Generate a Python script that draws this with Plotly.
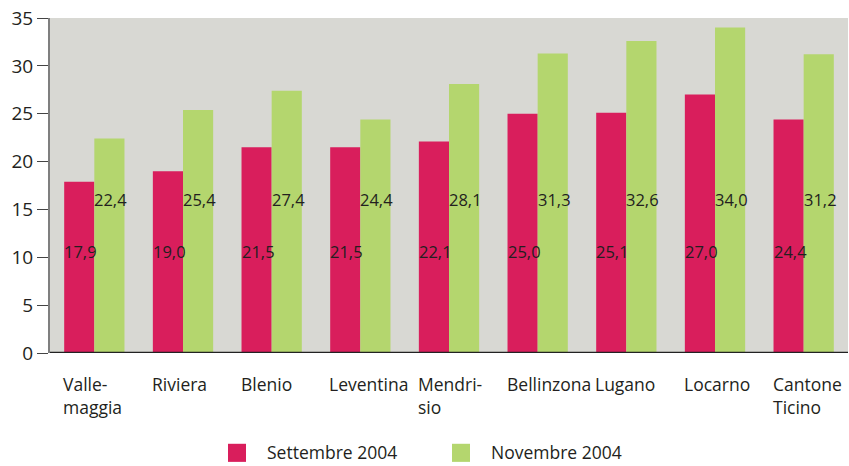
import plotly.graph_objects as go

categories = ["Vallemaggia", "Riviera", "Blenio", "Leventina", "Mendrisio",
              "Bellinzona", "Lugano", "Locarno", "Cantone Ticino"]
tick_labels = ["Valle-<br>maggia", "Riviera", "Blenio", "Leventina", "Mendri-<br>sio",
               "Bellinzona", "Lugano", "Locarno", "Cantone<br>Ticino"]
settembre = [17.9, 19.0, 21.5, 21.5, 22.1, 25.0, 25.1, 27.0, 24.4]
novembre = [22.4, 25.4, 27.4, 24.4, 28.1, 31.3, 32.6, 34.0, 31.2]
series_names = ["Settembre 2004", "Novembre 2004"]

RED = "#D91E5C"
GREEN = "#B4D66E"
FONT = "'Open Sans', Lato, sans-serif"
TXT = "#231F20"

fig = go.Figure()
fig.add_trace(go.Bar(x=categories, y=settembre, name=series_names[0],
                     marker=dict(color=RED, line=dict(width=0)), showlegend=False))
fig.add_trace(go.Bar(x=categories, y=novembre, name=series_names[1],
                     marker=dict(color=GREEN, line=dict(width=0)), showlegend=False))

ann = []
def fmt(v):
    return f"{v:.1f}".replace(".", ",")

for c, t, s, n in zip(categories, tick_labels, settembre, novembre):
    ann.append(dict(x=c, y=10.6, xref="x", yref="y", text=fmt(s), showarrow=False,
                    xanchor="left", yanchor="middle", xshift=-32,
                    font=dict(size=16.5, color=TXT, family=FONT)))
    ann.append(dict(x=c, y=16.0, xref="x", yref="y", text=fmt(n), showarrow=False,
                    xanchor="left", yanchor="middle", xshift=-2,
                    font=dict(size=16.5, color=TXT, family=FONT)))
    ann.append(dict(x=c, y=0, xref="x", yref="y", text=t, showarrow=False,
                    xanchor="left", yanchor="top", xshift=-33, yshift=-17, align="left",
                    font=dict(size=17.5, color=TXT, family=FONT)))

# custom legend
shapes = []
legend_items = [(series_names[0], RED, 178 / 798), (series_names[1], GREEN, 402 / 798)]
for name, col, x0 in legend_items:
    shapes.append(dict(type="rect", xref="paper", yref="paper",
                       x0=x0, x1=x0 + 18 / 798, y0=-0.325, y1=-0.271,
                       fillcolor=col, line=dict(width=0)))
    ann.append(dict(x=x0 + 38 / 798, y=-0.258, xref="paper", yref="paper", text=name,
                    showarrow=False, xanchor="left", yanchor="top", borderpad=0,
                    font=dict(size=17.5, color=TXT, family=FONT)))

fig.update_layout(
    width=849, height=466,
    margin=dict(l=50, r=1, t=18, b=113, autoexpand=False),
    paper_bgcolor="white", plot_bgcolor="#D8D8D3",
    barmode="group", bargap=0.32, bargroupgap=0,
    annotations=ann, shapes=shapes,
    font=dict(family=FONT, color=TXT),
    xaxis=dict(showticklabels=False, ticks="", showgrid=False, showline=False,
               zeroline=False),
    yaxis=dict(range=[0, 35], dtick=5, showgrid=False, zeroline=False,
               showline=True, linecolor="#7f7f7f", linewidth=2,
               ticks="outside", ticklen=11, tickcolor="#444444", tickwidth=1,
               tickfont=dict(size=19, color=TXT, family=FONT)),
)
fig.add_hline(y=0, line=dict(color="#222222", width=2.5))

fig.write_html("out.html", config={"displayModeBar": False},
               post_script="document.body.style.margin='0';")
